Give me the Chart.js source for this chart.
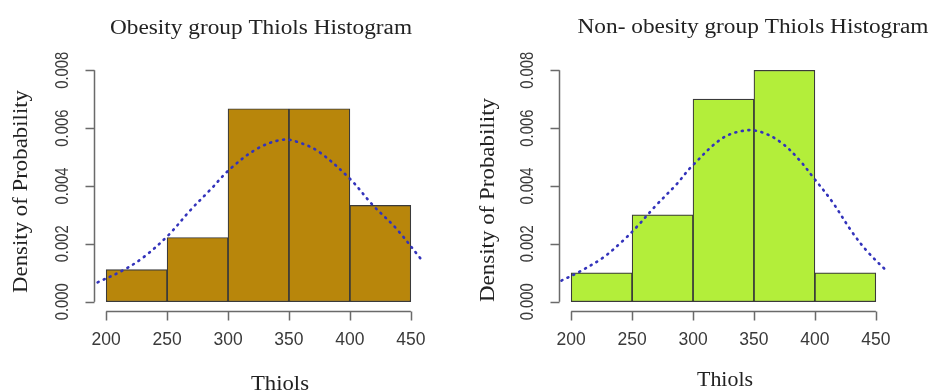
<!DOCTYPE html>
<html>
<head>
<meta charset="utf-8">
<script src="https://cdn.jsdelivr.net/npm/chart.js@4.4.1/dist/chart.umd.min.js"></script>
<style>
	body { margin: 0; background: #fff; width: 930px; height: 392px; overflow: hidden; }
	.panel { position: absolute; top: 0; width: 465px; height: 392px; }
</style>
</head>
<body>
<div class="panel" style="left:0"><canvas id="left" width="465" height="392"></canvas></div>
<div class="panel" style="left:465px"><canvas id="right" width="465" height="392"></canvas></div>
<script>
// histogram bins (centres of the 50-wide classes)
const binCenters = [225, 275, 325, 375, 425]
const obesityDensity = [0.00111, 0.00222, 0.00667, 0.00667, 0.00333]
const nonObesityDensity = [0.001, 0.003, 0.007, 0.008, 0.001]

// dotted density curves
const obesityCurveX = [193, 214, 231, 251, 269, 285, 302, 324, 345, 360, 375, 400, 419, 438, 459]
const obesityCurveY = [0.00067, 0.00109, 0.00155, 0.0023, 0.00316, 0.00385, 0.0046, 0.00529, 0.0056, 0.00548, 0.00517, 0.00425, 0.00333, 0.00253, 0.00144]
const nonObesityCurveX = [192, 206, 226, 242, 253, 269, 286, 299, 324, 343, 357, 373, 387, 399, 414, 431, 444, 459]
const nonObesityCurveY = [0.00073, 0.00102, 0.00152, 0.00209, 0.00255, 0.0033, 0.00404, 0.00468, 0.00565, 0.00592, 0.00585, 0.00548, 0.00491, 0.00428, 0.00347, 0.00238, 0.00169, 0.00106]

const xTicks = [200, 250, 300, 350, 400, 450]
const yTicks = [0, 0.002, 0.004, 0.006, 0.008]
const yTickLabels = ['0.000', '0.002', '0.004', '0.006', '0.008']

const titles = ['Obesity group Thiols Histogram', 'Non- obesity group Thiols Histogram']
const xTitle = 'Thiols'
const yTitle = 'Density of Probability'

// per-panel text placement (the two panels in the picture are not identical)
const layouts = [
	{ title: [261, 34, 302], xt: [280, 389.5, 58], yt: [26.5, 191.5, 203] },
	{ title: [288, 32.5, 351], xt: [260, 386, 56], yt: [28.5, 200, 204] },
]

function drawText(ctx, text, x, y, font, width, rotate, stretch) {
	ctx.save()
	ctx.translate(x, y)
	if (rotate) ctx.rotate(-Math.PI / 2)
	ctx.font = font
	const w = ctx.measureText(text).width
	ctx.scale(width ? width / w : 1, stretch || 1)
	ctx.fillText(text, 0, 0)
	ctx.restore()
}

const rAxes = {
	id: 'rAxes',
	afterDraw(chart, args, opts) {
		const ctx = chart.ctx
		const xs = chart.scales.x, ys = chart.scales.y
		const ax = Math.round(chart.chartArea.left) + 0.5
		const ay = Math.round(chart.chartArea.bottom) + 0.5
		const L = opts.layout
		ctx.save()
		ctx.strokeStyle = '#6a6a6a'
		ctx.lineWidth = 1.5
		ctx.beginPath()
		ctx.moveTo(ax, ys.getPixelForValue(yTicks[0]))
		ctx.lineTo(ax, ys.getPixelForValue(yTicks[yTicks.length - 1]))
		yTicks.forEach(v => {
			const p = Math.round(ys.getPixelForValue(v)) + 0.5
			ctx.moveTo(ax, p)
			ctx.lineTo(ax - 9, p)
		})
		ctx.moveTo(xs.getPixelForValue(xTicks[0]), ay)
		ctx.lineTo(xs.getPixelForValue(xTicks[xTicks.length - 1]), ay)
		xTicks.forEach(v => {
			const p = Math.round(xs.getPixelForValue(v)) + 0.5
			ctx.moveTo(p, ay)
			ctx.lineTo(p, ay + 9)
		})
		ctx.stroke()

		ctx.textAlign = 'center'
		ctx.textBaseline = 'middle'
		ctx.fillStyle = '#3a3a3a'
		xTicks.forEach(v => {
			drawText(ctx, String(v), xs.getPixelForValue(v), 340.5, '17.5px "Liberation Sans", Arial, sans-serif')
		})
		yTicks.forEach((v, i) => {
			drawText(ctx, yTickLabels[i], 63, ys.getPixelForValue(v), '14.5px "Liberation Sans", Arial, sans-serif', 37, true, 1.3)
		})

		ctx.textBaseline = 'alphabetic'
		ctx.fillStyle = '#222'
		const serif = '20px "Liberation Serif", "Times New Roman", serif'
		drawText(ctx, opts.title, L.title[0], L.title[1], serif, L.title[2])
		drawText(ctx, xTitle, L.xt[0], L.xt[1], serif, L.xt[2])
		drawText(ctx, yTitle, L.yt[0], L.yt[1], serif, L.yt[2], true)
		ctx.restore()
	}
}

function drawPanel(canvasId, idx, density, curveX, curveY, color) {
	return new Chart(document.getElementById(canvasId), {
		type: 'bar',
		data: {
			datasets: [
				{
					type: 'line',
					order: 0,
					data: curveX.map((x, i) => ({ x: x, y: curveY[i] })),
					borderColor: '#3333bb',
					borderWidth: 2.6,
					borderDash: [1, 5.6],
					borderCapStyle: 'round',
					pointRadius: 0,
					fill: false,
					tension: 0.35,
				},
				{
					order: 1,
					data: binCenters.map((x, i) => ({ x: x, y: density[i] })),
					backgroundColor: color,
					borderColor: '#3a3a3a',
					borderWidth: 1.2,
					borderSkipped: false,
					barPercentage: 1,
					categoryPercentage: 1,
				},
			]
		},
		options: {
			responsive: false,
			animation: false,
			layout: { padding: { left: 94, right: 42, top: 61, bottom: 81 } },
			scales: {
				x: { type: 'linear', min: 190, max: 460, offset: false, display: false },
				y: { type: 'linear', min: -0.00032, max: 0.00832, display: false },
			},
			plugins: {
				legend: { display: false },
				tooltip: { enabled: false },
				rAxes: { title: titles[idx], layout: layouts[idx] },
			}
		},
		plugins: [rAxes]
	})
}

drawPanel('left', 0, obesityDensity, obesityCurveX, obesityCurveY, '#B8860B')
drawPanel('right', 1, nonObesityDensity, nonObesityCurveX, nonObesityCurveY, '#B3EE3A')
</script>
</body>
</html>
